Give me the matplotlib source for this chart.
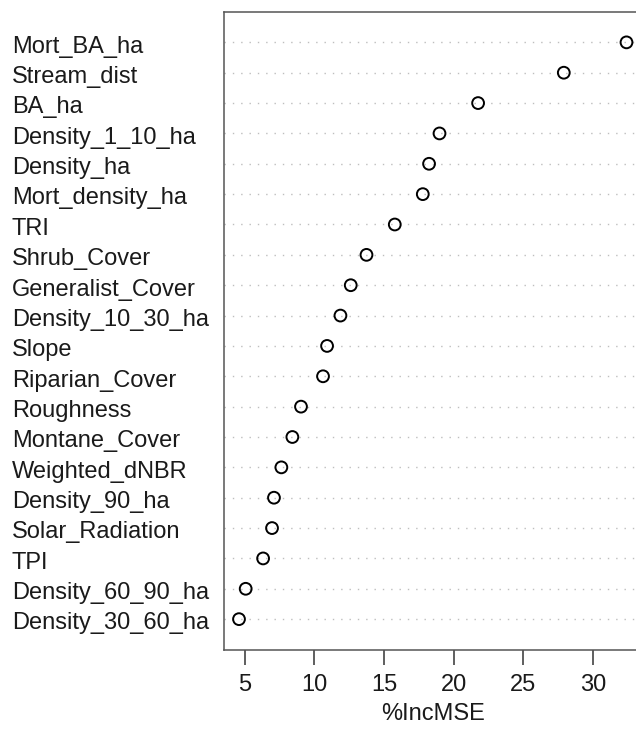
import numpy as np
import matplotlib
matplotlib.use("Agg")
import matplotlib.pyplot as plt
from matplotlib.transforms import blended_transform_factory, offset_copy

# variable importance, top to bottom as drawn
variables = ["Mort_BA_ha", "Stream_dist", "BA_ha", "Density_1_10_ha", "Density_ha",
             "Mort_density_ha", "TRI", "Shrub_Cover", "Generalist_Cover",
             "Density_10_30_ha", "Slope", "Riparian_Cover", "Roughness",
             "Montane_Cover", "Weighted_dNBR", "Density_90_ha", "Solar_Radiation",
             "TPI", "Density_60_90_ha", "Density_30_60_ha"]
inc_mse = [32.4, 27.9, 21.75, 18.98, 18.23, 17.78, 15.77, 13.74, 12.61, 11.87,
           10.91, 10.62, 9.04, 8.42, 7.63, 7.10, 6.96, 6.32, 5.07, 4.59]
xticks = [5, 10, 15, 20, 25, 30]

plt.rcParams['font.family'] = ['Liberation Sans', 'DejaVu Sans']

W, H = 636, 732
fig = plt.figure(figsize=(W / 100, H / 100), dpi=100)
left, right, top, bottom = 223.5, 642, 12, 649.5
ax = fig.add_axes([left / W, 1 - bottom / H, (right - left) / W, (bottom - top) / H])

n = len(variables)
ypos = np.arange(n, 0, -1)

lo, hi = min(inc_mse), max(inc_mse)
pad = (hi - lo) * 0.04
ax.set_xlim(lo - pad, hi + pad)
ax.set_ylim(0, n + 1)

for y in ypos:
    ax.axhline(y, color="#bebebe", linestyle=(0, (1, 5)), linewidth=1.0, zorder=1)

ax.scatter(inc_mse, ypos, s=72, facecolors="none", edgecolors="black",
           linewidths=1.4, zorder=3)

fs = 17
ax.set_yticks([])
trans = blended_transform_factory(fig.transFigure, ax.transData)
trans = offset_copy(trans, fig=fig, y=-10.3, units="dots")
for name, y in zip(variables, ypos):
    ax.text(12 / W, y, name, transform=trans, ha="left", va="baseline",
            fontsize=fs, color="#1a1a1a")

ax.set_xticks(xticks)
ax.set_xticklabels([str(t) for t in xticks], fontsize=fs, color="#1a1a1a")
ax.tick_params(axis="x", length=10.5, width=1.1, color="#333333", pad=7)
ax.set_xlabel("%IncMSE", fontsize=fs, color="#1a1a1a", labelpad=5)

for s in ax.spines.values():
    s.set_color("#555555")
    s.set_linewidth(1.1)

fig.savefig("out.png", dpi=100)
